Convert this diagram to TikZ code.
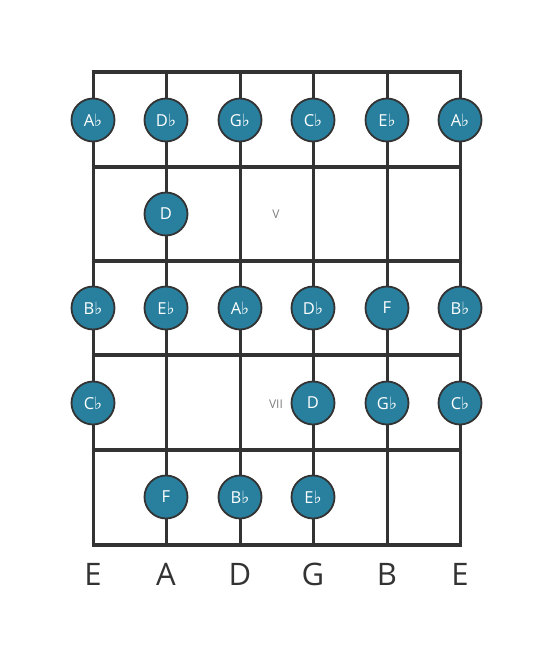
\documentclass[tikz,border=0pt]{standalone}
\usepackage{fontspec}
\setmainfont{Open Sans}
\newfontfamily\dvsans{DejaVu Sans}
\newcommand{\fl}{{\dvsans\fontsize{17pt}{17pt}\selectfont ♭}}
\definecolor{noteteal}{RGB}{41,128,158}
\definecolor{lineg}{RGB}{51,51,51}
\tikzset{
  note/.style={circle, draw=lineg, line width=1.8pt, fill=noteteal, minimum size=43pt, inner sep=0pt, text=white, font=\fontsize{16.5pt}{16.5pt}\selectfont},
  fretline/.style={line width=4.5pt, draw=lineg},
  stringline/.style={line width=3pt, draw=lineg},
  strlabel/.style={font=\fontsize{31pt}{31pt}\selectfont, text=lineg},
  fretnum/.style={font=\fontsize{12pt}{12pt}\selectfont, text=gray}
}
\begin{document}
\begin{tikzpicture}[x=1pt,y=-1pt]
\useasboundingbox (0,0) rectangle (553,656);
% strings
\foreach \i/\x in {1/93,2/166,3/240,4/313,5/387,6/460}{
  \coordinate (st\i) at (\x,72);
  \coordinate (sb\i) at (\x,545);
  \draw[stringline] (st\i) -- (sb\i);
}
% frets
\foreach \j/\y in {0/72,1/167,2/261,3/355,4/450,5/545}{
  \coordinate (fl\j) at (91.5,\y);
  \coordinate (fr\j) at (461.5,\y);
  \draw[fretline] (fl\j) -- (fr\j);
}
% fret numbers
\node[fretnum] (v) at (276,214) {V};
\node[fretnum] (vii) at (276,404) {VII};
% notes row 1
\node[note] (n11) at (93,120) {A\fl};
\node[note] (n12) at (166,120) {D\fl};
\node[note] (n13) at (240,120) {G\fl};
\node[note] (n14) at (313,120) {C\fl};
\node[note] (n15) at (387,120) {E\fl};
\node[note] (n16) at (460,120) {A\fl};
% row 2
\node[note] (n22) at (166,214) {D};
% row 3
\node[note] (n31) at (93,308) {B\fl};
\node[note] (n32) at (166,308) {E\fl};
\node[note] (n33) at (240,308) {A\fl};
\node[note] (n34) at (313,308) {D\fl};
\node[note] (n35) at (387,308) {F};
\node[note] (n36) at (460,308) {B\fl};
% row 4
\node[note] (n41) at (93,403) {C\fl};
\node[note] (n44) at (313,403) {D};
\node[note] (n45) at (387,403) {G\fl};
\node[note] (n46) at (460,403) {C\fl};
% row 5
\node[note] (n52) at (166,497) {F};
\node[note] (n53) at (240,497) {B\fl};
\node[note] (n54) at (313,497) {E\fl};
% string names
\foreach \i/\x/\n in {1/93/E,2/166/A,3/240/D,4/313/G,5/387/B,6/460/E}{
  \node[strlabel] (lab\i) at (\x,574) {\n};
}
\end{tikzpicture}
\end{document}
